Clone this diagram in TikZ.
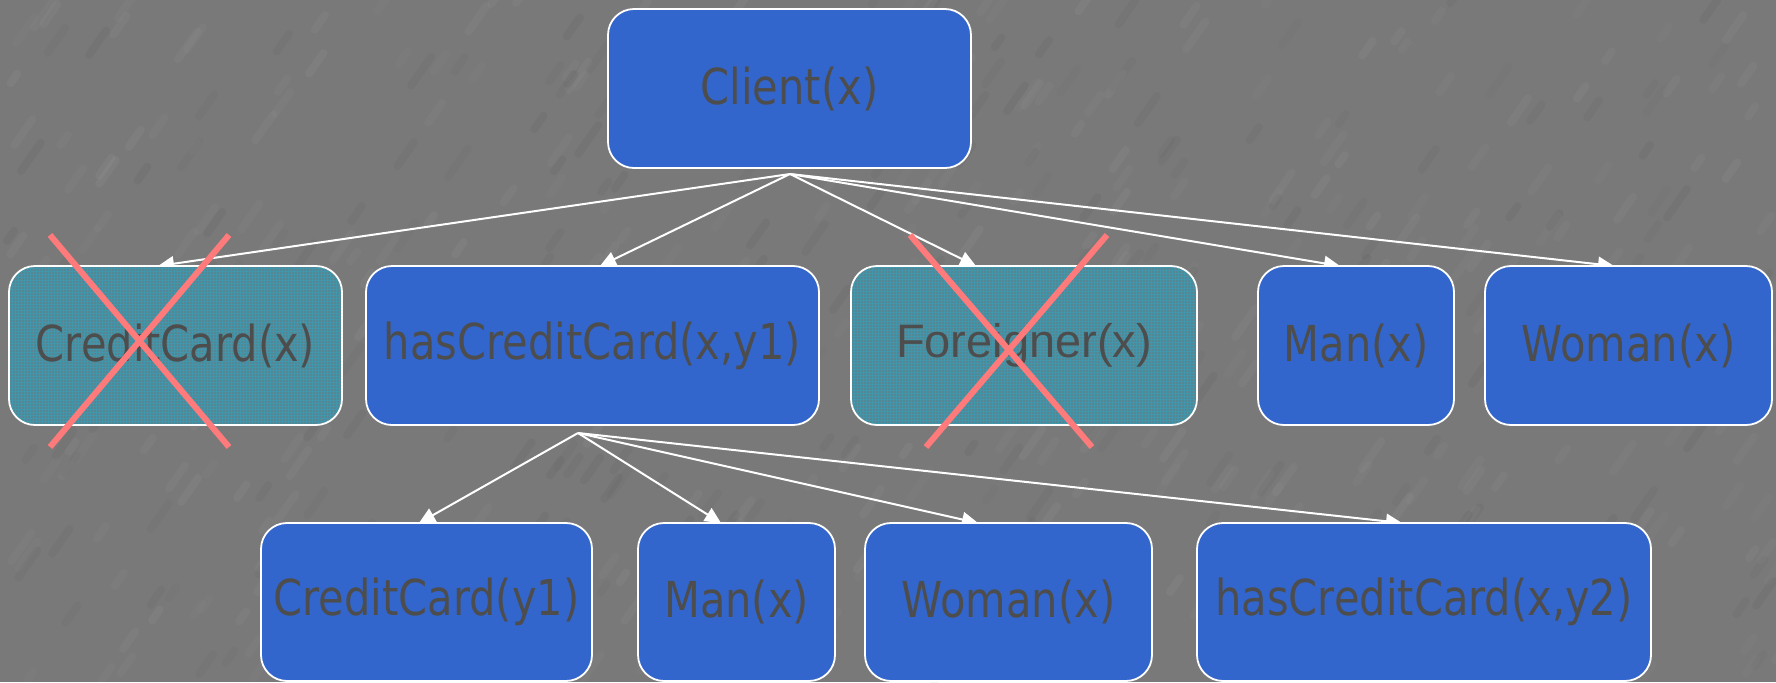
\documentclass[tikz,border=0pt]{standalone}
\usepackage{fontspec}
\setmainfont{DejaVu Sans}[FakeStretch=0.84]
\newfontfamily\arialish{Liberation Sans}
\usetikzlibrary{arrows.meta,calc,backgrounds}

\definecolor{bggray}{RGB}{121,121,121}
\definecolor{boxblue}{RGB}{51,102,204}
\definecolor{txtgray}{RGB}{77,77,77}
\definecolor{dropfill}{RGB}{84,134,148}
\definecolor{gridcyan}{RGB}{30,180,215}
\definecolor{crossred}{RGB}{255,122,122}

\tikzset{
  pbox/.style={rounded corners=13pt, draw=white, line width=0.9pt,
    fill=boxblue, text=txtgray, inner sep=0pt, outer sep=0pt,
    minimum height=79.5pt, font=\fontsize{24.75pt}{30pt}\selectfont},
  dropped/.style={pbox, fill=dropfill,
    path picture={\draw[gridcyan, line width=0.25pt, opacity=0.35]
      (path picture bounding box.south west) grid[step=1.5pt]
      (path picture bounding box.north east);}},
  conn/.style={white, line width=1pt, -{Triangle[length=8pt,width=7.5pt]}},
  strike/.style={crossred, line width=3pt},
}

\begin{document}
\begin{tikzpicture}[x=0.5pt,y=-0.5pt]
\useasboundingbox (0,0) rectangle (1776,682);

% predicate boxes: root
\node[pbox, minimum width=181.5pt] (client) at (789.5,88.5) {Client(x)};

% first level of refinements
\node[dropped, minimum width=166.5pt] (cc)      at (175.5,345.5) {CreditCard(x)};
\node[pbox,    minimum width=226.5pt] (hascc)   at (592.5,345.5) {hasCreditCard(x,y1)};
\node[dropped, minimum width=173pt,
      font=\arialish\fontsize{23.5pt}{28pt}\selectfont] (foreign) at (1024,345.5) {Foreigner(x)};
\node[pbox,    minimum width=98pt]    (man)     at (1356,345.5) {Man(x)};
\node[pbox,    minimum width=143.5pt] (woman)   at (1628.5,345.5) {Woman(x)};

% second level, under hasCreditCard(x,y1)
\node[pbox, minimum width=165.5pt, minimum height=79pt] (cc2)    at (426.5,602) {CreditCard(y1)};
\node[pbox, minimum width=98.5pt,  minimum height=79pt] (man2)   at (736.5,602) {Man(x)};
\node[pbox, minimum width=143.5pt, minimum height=79pt] (woman2) at (1008.5,602) {Woman(x)};
\node[pbox, minimum width=227pt,   minimum height=79pt] (hascc2) at (1424,602) {hasCreditCard(x,y2)};

\coordinate (fanA) at ($(client.south)+(0.5,6)$);
\coordinate (fanB) at ($(hascc.south)+(-14.5,8)$);

\begin{scope}[on background layer]
  % stone-like backdrop
  \fill[bggray] (0,0) rectangle (1776,682);
  \pgfmathsetseed{42}
  \foreach \i in {1,...,350}{
    \pgfmathsetmacro\sx{rnd*1776}
    \pgfmathsetmacro\sy{rnd*682}
    \pgfmathsetmacro\sl{10+rnd*25}
    \pgfmathsetmacro\so{0.015+rnd*0.025}
    \draw[white, opacity=\so, line width=4pt, line cap=round]
      (\sx,\sy) -- ++(-55:\sl);
  }
  \foreach \i in {1,...,250}{
    \pgfmathsetmacro\sx{rnd*1776}
    \pgfmathsetmacro\sy{rnd*682}
    \pgfmathsetmacro\sl{10+rnd*25}
    \pgfmathsetmacro\so{0.015+rnd*0.025}
    \draw[black, opacity=\so, line width=4pt, line cap=round]
      (\sx,\sy) -- ++(-55:\sl);
  }

  % connectors from Client(x)
  \draw[conn] (fanA) -- ($(cc.north)+(-17.5,0)$);
  \draw[conn] (fanA) -- ($(hascc.north)+(7.5,0)$);
  \draw[conn] (fanA) -- ($(foreign.north)+(-48,0)$);
  \draw[conn] (fanA) -- ($(man.north)+(-16,0)$);
  \draw[conn] (fanA) -- ($(woman.north)+(-14.5,0)$);

  % connectors from hasCreditCard(x,y1)
  \draw[conn] (fanB) -- ($(cc2.north)+(-7.5,0)$);
  \draw[conn] (fanB) -- ($(man2.north)+(-15.5,0)$);
  \draw[conn] (fanB) -- ($(woman2.north)+(-30.5,0)$);
  \draw[conn] (fanB) -- ($(hascc2.north)+(-22,0)$);
\end{scope}

% struck-out refinements
\draw[strike] (50,235) -- (229,447);
\draw[strike] (229,235) -- (50,447);
\draw[strike] (910,235) -- (1092,447);
\draw[strike] (1107,235) -- (926,447);
\end{tikzpicture}
\end{document}
